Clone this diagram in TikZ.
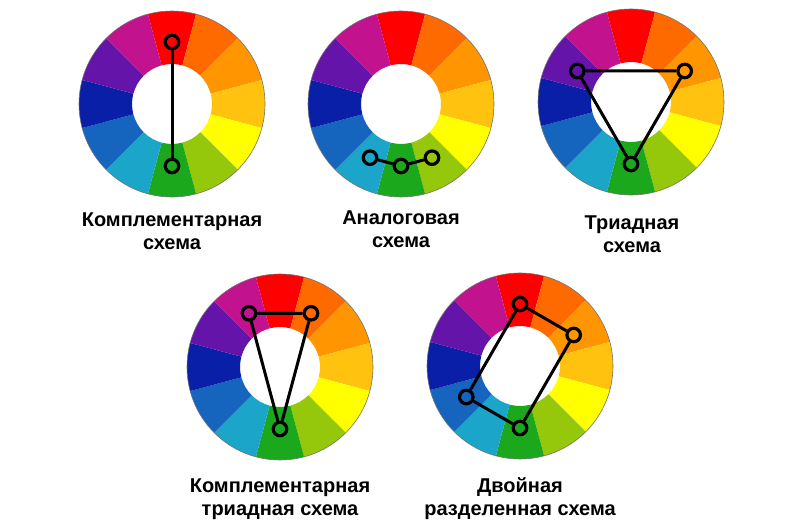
\documentclass[tikz,border=0pt]{standalone}
\usepackage{fontspec}
\setmainfont{Liberation Sans}
\usepackage{xcolor}
\usetikzlibrary{positioning}
\definecolor{hue1}{HTML}{FF0000}
\definecolor{hue2}{HTML}{FF6A00}
\definecolor{hue3}{HTML}{FF9500}
\definecolor{hue4}{HTML}{FFC20E}
\definecolor{hue5}{HTML}{FFFF00}
\definecolor{hue6}{HTML}{95C80A}
\definecolor{hue7}{HTML}{1CA81C}
\definecolor{hue8}{HTML}{1BA6C9}
\definecolor{hue9}{HTML}{1565BF}
\definecolor{hue10}{HTML}{0A1FA8}
\definecolor{hue11}{HTML}{6414A8}
\definecolor{hue12}{HTML}{C2128E}

\begin{document}
\begin{tikzpicture}[x=1pt,y=1pt]
    \tikzset{
        marker/.style={circle, draw=black, line width=3.2pt, minimum size=13.5pt, inner sep=0pt},
        link/.style={black, line width=3pt},
        caption/.style={font=\bfseries\fontsize{20}{23}\selectfont, align=center, anchor=base, inner sep=0pt},
    }
    \useasboundingbox (0,0) rectangle (800,522);

    % colour wheels
    \foreach \cx/\cy/\w in {172/418/1, 401/418/2, 631/420/3, 280/155/4, 520/156/5} {
        \coordinate (w\w) at (\cx,\cy);
        \foreach \i in {1,...,12} {
            \pgfmathsetmacro{\a}{90-30*(\i-1)+15}
            \pgfmathsetmacro{\b}{90-30*(\i-1)-15}
            \fill[hue\i] ([shift={(\a:40)}]w\w) arc[start angle=\a, end angle=\b, radius=40]
                -- ([shift={(\b:93)}]w\w) arc[start angle=\b, end angle=\a, radius=93] -- cycle;
        }
        \draw[black!55, line width=0.6pt] (w\w) circle[radius=93];
    }

    % complementary
    \node[marker] (m1a) at ([shift={(90:62)}]w1) {};
    \node[marker] (m1b) at ([shift={(270:62)}]w1) {};
    \draw[link] (m1a) -- (m1b);

    % analogous
    \node[marker] (m2a) at ([shift={(240:62)}]w2) {};
    \node[marker] (m2b) at ([shift={(270:62)}]w2) {};
    \node[marker] (m2c) at ([shift={(300:62)}]w2) {};
    \draw[link] (m2a) -- (m2b) -- (m2c);

    % triad
    \node[marker] (m3a) at ([shift={(150:62)}]w3) {};
    \node[marker] (m3b) at ([shift={(30:62)}]w3) {};
    \node[marker] (m3c) at ([shift={(270:62)}]w3) {};
    \draw[link] (m3a) -- (m3b) -- (m3c) -- (m3a);

    % split complementary
    \node[marker] (m4a) at ([shift={(120:62)}]w4) {};
    \node[marker] (m4b) at ([shift={(60:62)}]w4) {};
    \node[marker] (m4c) at ([shift={(270:62)}]w4) {};
    \draw[link] (m4a) -- (m4b) -- (m4c) -- (m4a);

    % double split
    \node[marker] (m5a) at ([shift={(90:62)}]w5) {};
    \node[marker] (m5b) at ([shift={(30:62)}]w5) {};
    \node[marker] (m5c) at ([shift={(270:62)}]w5) {};
    \node[marker] (m5d) at ([shift={(210:62)}]w5) {};
    \draw[link] (m5a) -- (m5b) -- (m5c) -- (m5d) -- (m5a);

    % captions
    \node[caption] (t1) at (172,272) {Комплементарная\\схема};
    \node[caption] (t2) at (401,274) {Аналоговая\\схема};
    \node[caption] (t3) at (632,269) {Триадная\\схема};
    \node[caption] (t4) at (280,7) {Комплементарная\\триадная схема};
    \node[caption] (t5) at (520,7) {Двойная\\разделенная схема};
\end{tikzpicture}
\end{document}
